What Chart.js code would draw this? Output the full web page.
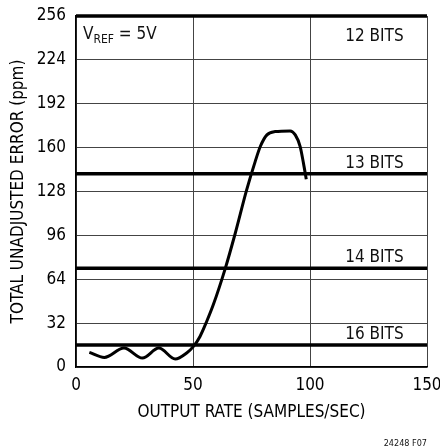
<!DOCTYPE html>
<html>
<head>
<meta charset="utf-8">
<script src="https://cdn.jsdelivr.net/npm/chart.js@4"></script>
<style>
html,body{margin:0;padding:0;background:#fff;}
#c{display:block;}
</style>
</head>
<body>
<canvas id="c" width="440" height="447"></canvas>
<script>
// ---- data ----
const rateX = [5.7, 12.1, 20.5, 28.4, 35.4, 42.4, 47.3, 50.2, 53.0, 55.8, 58.7, 63.7, 68.0, 72.9, 76.6, 78.8, 81.6, 85.1, 91.5, 93.7, 95.8, 97.2, 98.4];
const errorY = [10.7, 7.0, 13.8, 6.5, 13.8, 5.8, 10.2, 15.0, 22.3, 33.0, 45.5, 71.4, 97.2, 129.0, 150.0, 161.0, 169.3, 171.7, 172.2, 169.3, 160.8, 148.7, 137.0];
const bitLabels = ['12 BITS', '13 BITS', '14 BITS', '16 BITS'];
const bitLevels = [256, 141, 72, 16];
const xTicks = [0, 50, 100, 150];
const yTicks = [0, 32, 64, 96, 128, 160, 192, 224, 256];

const FONT = "'Liberation Sans Narrow', 'DejaVu Sans Condensed', 'Arial Narrow', sans-serif";

const datasets = [{
  data: rateX.map((x, i) => ({x: x, y: errorY[i]})),
  borderColor: '#000',
  borderWidth: 3,
  pointRadius: 0,
  cubicInterpolationMode: 'monotone',
  fill: false,
  borderCapStyle: 'butt'
}];
bitLevels.forEach(v => {
  datasets.push({
    data: [{x: 0, y: v}, {x: 150, y: v}],
    borderColor: '#000',
    borderWidth: 3.5,
    pointRadius: 0,
    fill: false,
    clip: 4
  });
});

const annot = {
  id: 'annot',
  afterDatasetsDraw(chart) {
    const ctx = chart.ctx;
    const xs = chart.scales.x, ys = chart.scales.y;
    ctx.save();
    ctx.fillStyle = '#111';
    ctx.font = '17px ' + FONT;
    ctx.textAlign = 'right';
    ctx.textBaseline = 'alphabetic';
    bitLabels.forEach((t, i) => {
      const px = xs.getPixelForValue(140);
      let py = ys.getPixelForValue(bitLevels[i]);
      py = (i === 0) ? py + 25 : py - 6;
      ctx.fillText(t, px, py);
    });
    // VREF = 5V
    ctx.textAlign = 'left';
    let x0 = xs.getPixelForValue(3);
    const by = ys.getPixelForValue(256) + 23;
    ctx.font = '17px ' + FONT;
    ctx.fillText('V', x0, by);
    x0 += ctx.measureText('V').width;
    ctx.font = '12px ' + FONT;
    ctx.fillText('REF', x0, by + 4);
    x0 += ctx.measureText('REF').width;
    ctx.font = '17px ' + FONT;
    ctx.fillText(' = 5V', x0, by);
    // figure code
    ctx.font = '9px ' + FONT;
    ctx.textAlign = 'right';
    ctx.fillText('24248 F07', 427, 446);
    ctx.restore();
  }
};

new Chart(document.getElementById('c'), {
  type: 'line',
  data: {datasets: datasets},
  plugins: [annot],
  options: {
    responsive: false,
    animation: false,
    devicePixelRatio: 1,
    layout: {padding: {left: 0, top: 16, right: 0, bottom: 24}},
    plugins: {legend: {display: false}, tooltip: {enabled: false}},
    scales: {
      x: {
        type: 'linear',
        min: 0, max: 150,
        afterBuildTicks: s => { s.ticks = xTicks.map(v => ({value: v})); },
        afterFit: s => { s.height = 56; s.paddingRight = 13; s.paddingLeft = 0; },
        ticks: {color: '#000', font: {family: FONT, size: 17}, padding: 8, maxRotation: 0},
        grid: {color: '#444', lineWidth: 1, drawTicks: false},
        border: {color: '#000', width: 1.5},
        title: {display: true, text: 'OUTPUT RATE (SAMPLES/SEC)', color: '#000', font: {family: FONT, size: 17}, padding: {top: 10, bottom: 0}}
      },
      y: {
        type: 'linear',
        min: 0, max: 256,
        afterBuildTicks: s => { s.ticks = yTicks.map(v => ({value: v})); },
        afterFit: s => { s.width = 76; s.paddingTop = 0; s.paddingBottom = 0; },
        ticks: {color: '#000', font: {family: FONT, size: 17}, padding: 10},
        grid: {color: '#444', lineWidth: 1, drawTicks: false},
        border: {color: '#000', width: 1.5},
        title: {display: true, text: 'TOTAL UNADJUSTED ERROR (ppm)', color: '#000', font: {family: FONT, size: 17}, padding: {top: 8, bottom: 0}}
      }
    }
  }
});
</script>
</body>
</html>
